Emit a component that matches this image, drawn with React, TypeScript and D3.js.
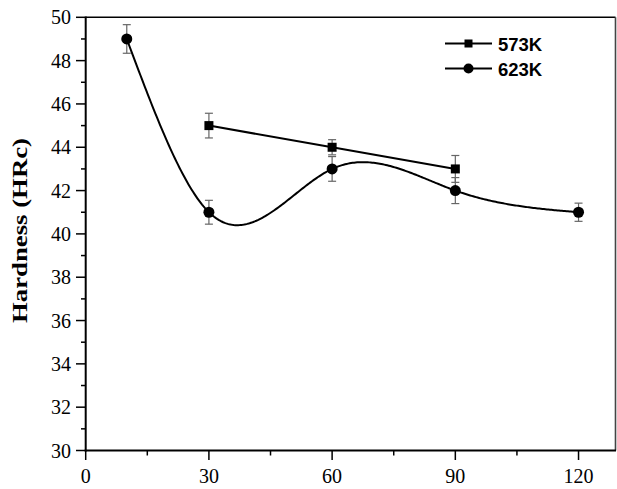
import React from "react";
import * as d3 from "d3";

const xTicks = [0, 30, 60, 90, 120];
const xMinor = [15, 45, 75, 105];
const yTicks = [30, 32, 34, 36, 38, 40, 42, 44, 46, 48, 50];
const yMinor = [31, 33, 35, 37, 39, 41, 43, 45, 47, 49];

const s573x = [30, 60, 90];
const s573y = [45, 44, 43];
const s573e = [0.57, 0.35, 0.62];

const s623x = [10, 30, 60, 90, 120];
const s623y = [49, 41, 43, 42, 41];
const s623e = [0.66, 0.55, 0.57, 0.6, 0.42];

const legendLabels = ["573K", "623K"];
const yLabel = "Hardness (HRc)";

// natural cubic spline y(x) through the data knots
function naturalSpline(xs: number[], ys: number[]) {
  const n = xs.length;
  const h = xs.slice(1).map((v, i) => v - xs[i]);
  const M = new Array(n).fill(0);
  const m = n - 2;
  if (m > 0) {
    const a: number[] = [], b: number[] = [], c: number[] = [], d: number[] = [];
    for (let i = 1; i <= m; i++) {
      a.push(h[i - 1]);
      b.push(2 * (h[i - 1] + h[i]));
      c.push(h[i]);
      d.push(6 * ((ys[i + 1] - ys[i]) / h[i] - (ys[i] - ys[i - 1]) / h[i - 1]));
    }
    for (let i = 1; i < m; i++) {
      const w = a[i] / b[i - 1];
      b[i] -= w * c[i - 1];
      d[i] -= w * d[i - 1];
    }
    const sol = new Array(m).fill(0);
    sol[m - 1] = d[m - 1] / b[m - 1];
    for (let i = m - 2; i >= 0; i--) sol[i] = (d[i] - c[i] * sol[i + 1]) / b[i];
    for (let i = 0; i < m; i++) M[i + 1] = sol[i];
  }
  return (x: number) => {
    let k = 0;
    while (k < n - 2 && x > xs[k + 1]) k++;
    const hk = h[k];
    const u = x - xs[k], v = xs[k + 1] - x;
    return (
      (M[k] * v * v * v) / (6 * hk) +
      (M[k + 1] * u * u * u) / (6 * hk) +
      (ys[k] / hk - (M[k] * hk) / 6) * v +
      (ys[k + 1] / hk - (M[k + 1] * hk) / 6) * u
    );
  };
}

export default function App() {
  const W = 617, H = 489;
  const x = d3.scaleLinear().domain([0, 129]).range([85.7, 615.5]);
  const y = d3.scaleLinear().domain([30, 50]).range([450.5, 17.3]);
  const p573 = s573x.map((v, i) => [x(v), y(s573y[i])] as [number, number]);
  const p623 = s623x.map((v, i) => [x(v), y(s623y[i])] as [number, number]);
  const lin = d3.line().curve(d3.curveLinear)(p573) || "";
  const f = naturalSpline(s623x, s623y);
  const x0 = s623x[0], x1 = s623x[s623x.length - 1];
  const curvePts = d3.range(0, 301).map((i) => {
    const xv = x0 + ((x1 - x0) * i) / 300;
    return [x(xv), y(f(xv))] as [number, number];
  });
  const spl = d3.line()(curvePts) || "";
  const serif = "'Liberation Serif', 'Times New Roman', Times, serif";
  const sans = "'Liberation Sans', Arial, sans-serif";
  const err = (xs: number[], ys: number[], es: number[], key: string) =>
    xs.map((v, i) => {
      const cx = x(v);
      const t = y(ys[i] + es[i]);
      const b = y(ys[i] - es[i]);
      return (
        <g key={key + i} stroke="#666" strokeWidth={1.2}>
          <line x1={cx} x2={cx} y1={t} y2={b} />
          <line x1={cx - 4} x2={cx + 4} y1={t} y2={t} />
          <line x1={cx - 4} x2={cx + 4} y1={b} y2={b} />
        </g>
      );
    });
  return (
    <svg width={W} height={H} style={{ position: "absolute", left: 0, top: 0, background: "#fff" }}>
      <rect x={0} y={0} width={W} height={H} fill="#fff" />
      {/* frame */}
      <line x1={85.7} x2={615.5} y1={17.3} y2={17.3} stroke="#000" strokeWidth={1.6} />
      <line x1={615.5} x2={615.5} y1={17.3} y2={450.5} stroke="#444" strokeWidth={1.6} />
      <line x1={85.7} x2={85.7} y1={16.5} y2={451.5} stroke="#000" strokeWidth={2} />
      <line x1={84.7} x2={616} y1={450.5} y2={450.5} stroke="#000" strokeWidth={2} />
      {/* y ticks */}
      {yTicks.map((t) => (
        <g key={"yt" + t}>
          <line x1={76} x2={85.7} y1={y(t)} y2={y(t)} stroke="#000" strokeWidth={1.5} />
          <text x={71} y={y(t)} dy="0.35em" textAnchor="end" fontFamily={serif} fontSize={20} fill="#000">
            {t}
          </text>
        </g>
      ))}
      {yMinor.map((t) => (
        <line key={"ym" + t} x1={81} x2={85.7} y1={y(t)} y2={y(t)} stroke="#000" strokeWidth={1.5} />
      ))}
      {/* x ticks */}
      {xTicks.map((t) => (
        <g key={"xt" + t}>
          <line x1={x(t)} x2={x(t)} y1={450.5} y2={460} stroke="#000" strokeWidth={1.5} />
          <text x={x(t)} y={483} textAnchor="middle" fontFamily={serif} fontSize={20} fill="#000">
            {t}
          </text>
        </g>
      ))}
      {xMinor.map((t) => (
        <line key={"xm" + t} x1={x(t)} x2={x(t)} y1={450.5} y2={455.5} stroke="#000" strokeWidth={1.5} />
      ))}
      {/* y label */}
      <text
        transform={`translate(27,230.5) rotate(-90)`}
        textAnchor="middle"
        fontFamily={serif}
        fontWeight="bold"
        fontSize={21}
        textLength={185}
        lengthAdjust="spacingAndGlyphs"
        fill="#000"
      >
        {yLabel}
      </text>
      {/* error bars */}
      {err(s573x, s573y, s573e, "e573")}
      {err(s623x, s623y, s623e, "e623")}
      {/* lines */}
      <path d={lin} fill="none" stroke="#000" strokeWidth={2} />
      <path d={spl} fill="none" stroke="#000" strokeWidth={2} />
      {/* markers */}
      {p573.map(([px, py], i) => (
        <rect key={"m573" + i} x={px - 4.5} y={py - 4.5} width={9} height={9} fill="#000" />
      ))}
      {p623.map(([px, py], i) => (
        <circle key={"m623" + i} cx={px} cy={py} r={5.5} fill="#000" />
      ))}
      {/* legend */}
      <g>
        <line x1={445} x2={492} y1={43.5} y2={43.5} stroke="#000" strokeWidth={2} />
        <rect x={468.5 - 4} y={43.5 - 4} width={8} height={8} fill="#000" />
        <text x={498} y={50.5} fontFamily={sans} fontWeight="bold" fontSize={18.5} fill="#000">
          {legendLabels[0]}
        </text>
        <line x1={445} x2={492} y1={68.5} y2={68.5} stroke="#000" strokeWidth={2} />
        <circle cx={468.5} cy={68.5} r={5} fill="#000" />
        <text x={498} y={75.5} fontFamily={sans} fontWeight="bold" fontSize={18.5} fill="#000">
          {legendLabels[1]}
        </text>
      </g>
    </svg>
  );
}
